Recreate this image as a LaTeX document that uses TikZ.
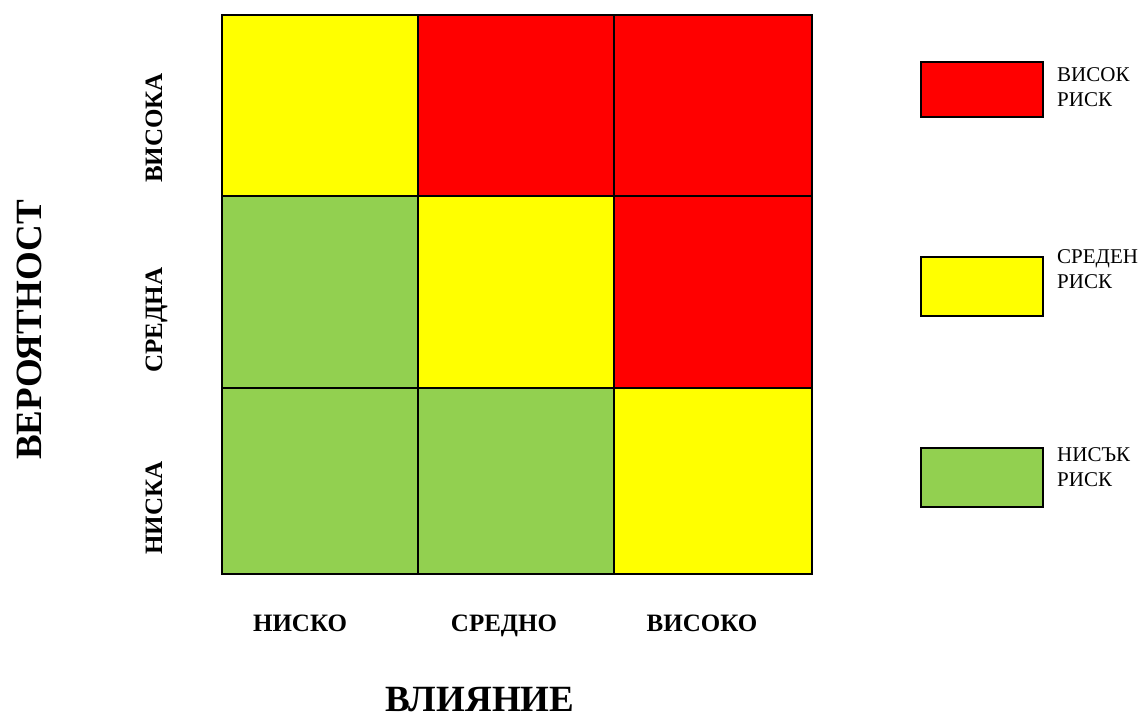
\documentclass[tikz,border=0pt]{standalone}
\usepackage{fontspec}
\setmainfont{Liberation Serif}
\usetikzlibrary{positioning}

\definecolor{riskred}{HTML}{FF0000}
\definecolor{riskyellow}{HTML}{FFFF00}
\definecolor{riskgreen}{HTML}{92D050}

\begin{document}
\begin{tikzpicture}[
  x=1pt, y=-1pt,
  cell/.style={draw=black, line width=2pt},
  axislabel/.style={font=\bfseries\fontsize{25}{30}\selectfont, inner sep=0pt, anchor=base},
  titlelabel/.style={font=\bfseries\fontsize{37}{44}\selectfont, inner sep=0pt, anchor=base},
  legendbox/.style={draw=black, line width=1.6pt},
  legendtext/.style={font=\fontsize{21}{25}\selectfont, align=left, anchor=north west, inner sep=0pt}
]
\useasboundingbox (0,0) rectangle (1141,721);

% matrix cells
\foreach \xa/\xb/\ya/\yb/\col in {
  222/418/15/196/riskyellow, 418/614/15/196/riskred, 614/812/15/196/riskred,
  222/418/196/388/riskgreen, 418/614/196/388/riskyellow, 614/812/196/388/riskred,
  222/418/388/574/riskgreen, 418/614/388/574/riskgreen, 614/812/388/574/riskyellow}
  \draw[cell, fill=\col] (\xa,\ya) rectangle (\xb,\yb);

% row labels
\node[axislabel, rotate=90] (high) at (162,128) {ВИСОКА};
\node[axislabel, rotate=90] (medium) at (162,320) {СРЕДНА};
\node[axislabel, rotate=90] (low) at (162,508) {НИСКА};
\node[titlelabel, rotate=90] (prob) at (41,330) {ВЕРОЯТНОСТ};

% column labels
\node[axislabel] (lowimp) at (300,631) {НИСКО};
\node[axislabel] (medimp) at (504,631) {СРЕДНО};
\node[axislabel] (highimp) at (702,631) {ВИСОКО};
\node[titlelabel] (impact) at (480,711) {ВЛИЯНИЕ};

% legend
\draw[legendbox, fill=riskred] (921,62) rectangle (1043,117);
\draw[legendbox, fill=riskyellow] (921,257) rectangle (1043,316);
\draw[legendbox, fill=riskgreen] (921,448) rectangle (1043,507);
\node[legendtext] (hightext) at (1057,67) {ВИСОК\\РИСК};
\node[legendtext] (medtext) at (1057,249) {СРЕДЕН\\РИСК};
\node[legendtext] (lowtext) at (1057,447) {НИСЪК\\РИСК};

\end{tikzpicture}
\end{document}
